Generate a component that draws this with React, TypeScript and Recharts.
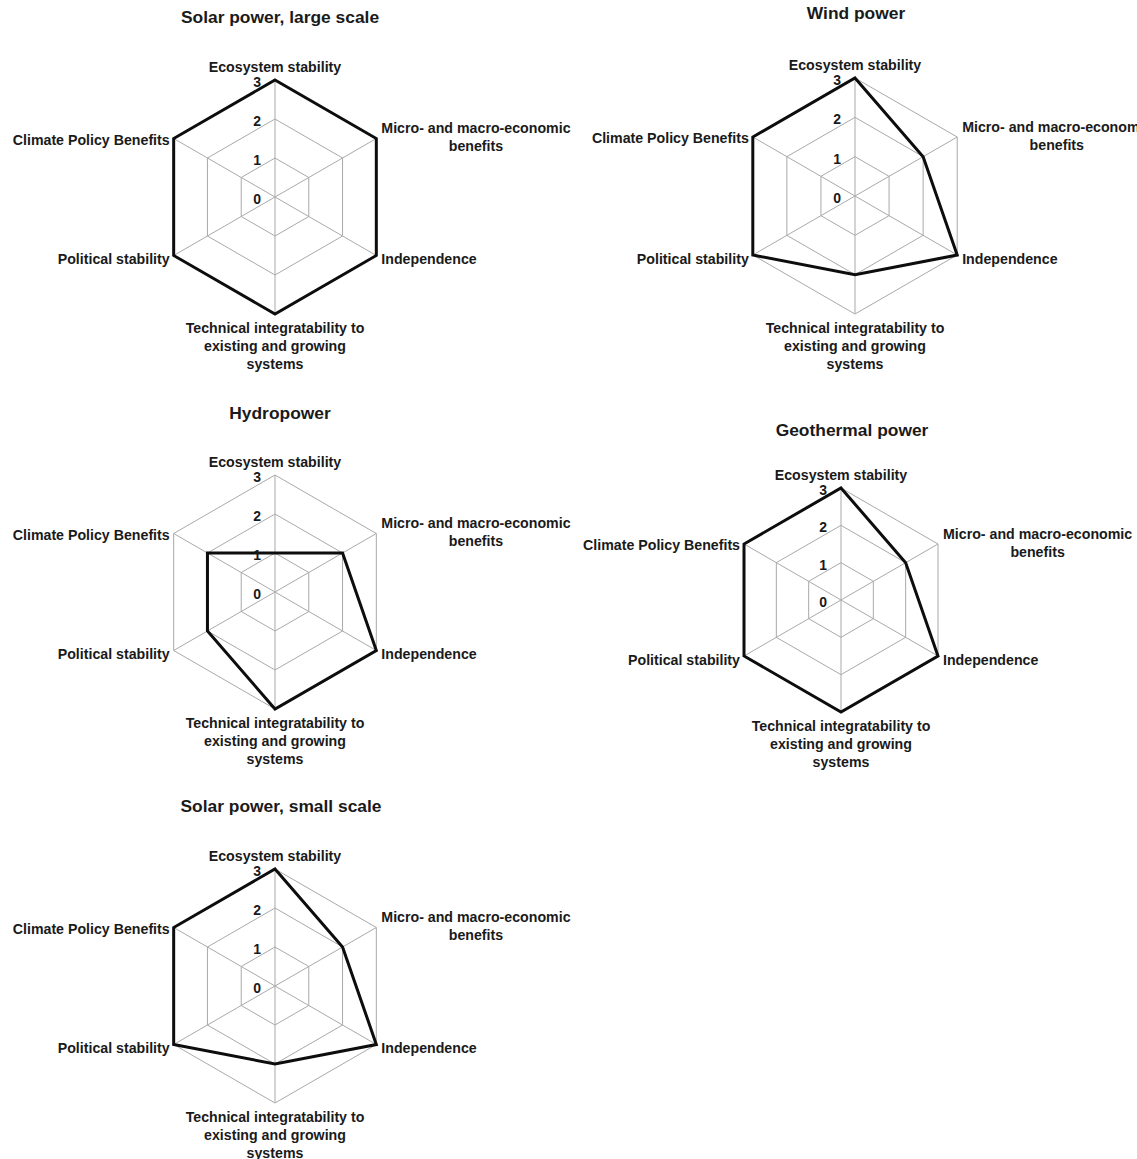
import { RadarChart, Radar, PolarGrid, PolarAngleAxis, PolarRadiusAxis } from "recharts";

const criteria = [
  "Ecosystem stability",
  "Micro- and macro-economic benefits",
  "Independence",
  "Technical integratability to existing and growing systems",
  "Political stability",
  "Climate Policy Benefits",
];

// how each axis label wraps in the original
const criteriaLines = [
  ["Ecosystem stability"],
  ["Micro- and macro-economic", "benefits"],
  ["Independence"],
  ["Technical integratability to", "existing and growing", "systems"],
  ["Political stability"],
  ["Climate Policy Benefits"],
];

const scoreTicks = [0, 1, 2, 3];

const solarLarge = [3, 3, 3, 3, 3, 3];
const windPower = [3, 2, 3, 2, 3, 3];
const hydroPower = [1, 2, 3, 3, 2, 2];
const geothermalPower = [3, 2, 3, 3, 3, 3];
const solarSmall = [3, 2, 3, 2, 3, 3];

const FONT = '"Liberation Sans", Arial, Helvetica, sans-serif';
const INK = "#1a1a1a";
const LABEL_SIZE = 14.2;

let ctx: CanvasRenderingContext2D | null = null;
const textWidth = (s: string) => {
  if (!ctx) ctx = document.createElement("canvas").getContext("2d");
  if (!ctx) return s.length * 8;
  ctx.font = `bold ${LABEL_SIZE}px ${FONT}`;
  return ctx.measureText(s).width;
};

const makeAngleTick = (cx: number, cy: number, r: number) => (props: any) => {
  const i = props.index ?? criteria.indexOf(props.payload?.value);
  const lines = criteriaLines[i] || [String(props.payload?.value)];
  const a = ((90 - i * 60) * Math.PI) / 180;
  const vx = cx + r * Math.cos(a);
  const vy = cy - r * Math.sin(a);
  const lh = 18;
  let anchorX = vx;
  let firstBase = vy;
  let side: "mid" | "right" | "left" = "mid";
  if (i === 0) {
    firstBase = vy - 8;
  } else if (i === 3) {
    firstBase = vy + 19;
  } else {
    const off = i === 1 ? -1.5 : i === 5 ? 1 : 3.5;
    const center = vy + off;
    firstBase = center - ((lines.length - 1) * lh) / 2 + 5;
    side = i < 3 ? "right" : "left";
  }
  const w = Math.max(...lines.map(textWidth));
  if (side === "right") anchorX = vx + 5 + w / 2;
  if (side === "left") anchorX = vx - 4 - w / 2;
  return (
    <text textAnchor="middle" fontFamily={FONT} fontWeight="bold" fontSize={LABEL_SIZE} fill={INK}>
      {lines.map((ln, k) => (
        <tspan key={k} x={anchorX} y={firstBase + k * lh}>
          {ln}
        </tspan>
      ))}
    </text>
  );
};

const radiusTick = (props: any) => (
  <text
    x={props.x - 14}
    y={props.y + 7}
    textAnchor="end"
    fontFamily={FONT}
    fontWeight="bold"
    fontSize={14}
    fill={INK}
  >
    {props.payload.value}
  </text>
);

type PanelProps = {
  title: string;
  values: number[];
  left: number;
  top: number;
  width: number;
  height: number;
  cx: number;
  cy: number;
  r: number;
  titleX: number;
  titleY: number;
};

const RadarPanel = ({ title, values, left, top, width, height, cx, cy, r, titleX, titleY }: PanelProps) => {
  const rows = criteria.map((c, i) => ({ criterion: c, score: values[i] }));
  return (
    <div style={{ position: "absolute", left, top, width, height }}>
      <div
        style={{
          position: "absolute",
          left: titleX - 200,
          top: titleY - 10,
          width: 400,
          lineHeight: "20px",
          textAlign: "center",
          fontFamily: FONT,
          fontWeight: "bold",
          fontSize: 17.4,
          color: INK,
        }}
      >
        {title}
      </div>
      <RadarChart
        width={width}
        height={height}
        data={rows}
        cx={cx}
        cy={cy}
        outerRadius={r}
        margin={{ top: 0, right: 0, bottom: 0, left: 0 }}
        style={{ position: "absolute", left: 0, top: 0 }}
      >
        <PolarGrid gridType="polygon" stroke="#a9a9a9" strokeWidth={1} />
        <PolarAngleAxis dataKey="criterion" tick={makeAngleTick(cx, cy, r)} tickLine={false} axisLine={false} />
        <PolarRadiusAxis
          angle={90}
          domain={[0, 3]}
          ticks={scoreTicks as any}
          tickCount={4}
          axisLine={false}
          tickLine={false}
          tick={radiusTick}
        />
        <Radar
          dataKey="score"
          stroke="#0d0d0d"
          strokeWidth={3}
          fill="none"
          fillOpacity={0}
          dot={false}
          isAnimationActive={false}
        />
      </RadarChart>
    </div>
  );
};

export default function App() {
  return (
    <div
      style={{
        position: "absolute",
        left: 0,
        top: 0,
        width: 1137,
        height: 1159,
        overflow: "hidden",
        background: "#fff",
      }}
    >
      <RadarPanel title="Solar power, large scale" values={solarLarge}
        left={0} top={0} width={590} height={395} cx={275} cy={197} r={117} titleX={280} titleY={17} />
      <RadarPanel title="Wind power" values={windPower}
        left={575} top={0} width={562} height={400} cx={280} cy={196} r={118} titleX={281} titleY={13} />
      <RadarPanel title="Hydropower" values={hydroPower}
        left={0} top={395} width={590} height={395} cx={275} cy={197} r={117} titleX={280} titleY={18} />
      <RadarPanel title="Geothermal power" values={geothermalPower}
        left={575} top={400} width={562} height={400} cx={266} cy={200} r={112} titleX={277} titleY={30} />
      <RadarPanel title="Solar power, small scale" values={solarSmall}
        left={0} top={790} width={590} height={369} cx={275} cy={196} r={117} titleX={281} titleY={16} />
    </div>
  );
}
